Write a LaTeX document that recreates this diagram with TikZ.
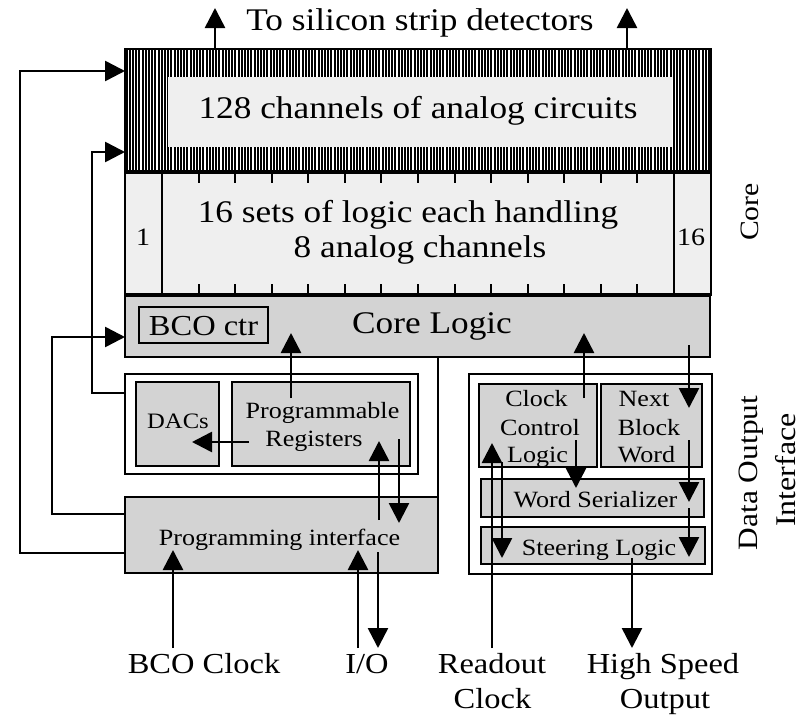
\documentclass[tikz,border=0pt]{standalone}
\usepackage{fontspec}
\setmainfont{Liberation Serif}[FakeStretch=1.12]
\usetikzlibrary{arrows.meta}
\definecolor{lg}{HTML}{EFEFEF}
\definecolor{mg}{HTML}{D3D3D3}
\newcommand\myfs[1]{\fontsize{#1}{#1}\selectfont}
\begin{document}
\begin{tikzpicture}[x=1pt,y=-1pt,
 box/.style={draw,line width=2pt,inner sep=0pt,outer sep=0pt,anchor=north west},
 lbl/.style={anchor=base,inner sep=0pt,outer sep=0pt},
 big/.style={font=\myfs{31.5}},
 bot/.style={font=\myfs{29}},
 sml/.style={font=\myfs{23.3}},
 ln/.style={line width=2.6pt},
 arr/.style={line width=2.6pt,-{Triangle[length=20pt,width=20pt]}}]
\useasboundingbox (0,0) rectangle (809,715);

% hatched analog block
\foreach \x in {126.5,129.7,...,710} \draw[line width=2pt] (\x,49) -- (\x,172);
\node[box,draw=none,fill=lg,minimum width=504pt,minimum height=70pt] (analog) at (168,77) {};
\node[box,minimum width=586pt,minimum height=123pt] (hatch) at (125,49) {};
\node[lbl,big] (tanalog) at (418,118) {128 channels of analog circuits};

% logic block
\node[box,fill=lg,minimum width=586pt,minimum height=123pt] (logic) at (125,172) {};
\draw[line width=2pt] ([xshift=37pt]logic.north west) -- ([xshift=37pt]logic.south west);
\draw[line width=2pt] ([xshift=-37pt]logic.north east) -- ([xshift=-37pt]logic.south east);
\foreach \k in {1,...,13} {
  \draw[line width=2pt] (162+\k*36.571,172) -- ++(0,11);
  \draw[line width=2pt] (162+\k*36.571,295) -- ++(0,-11);
}
\node[lbl,font=\myfs{25}] (one) at (143,245) {1};
\node[lbl,font=\myfs{25}] (sixteen) at (691,245) {16};
\node[lbl,big] (tl1) at (408,222) {16 sets of logic each handling};
\node[lbl,big] (tl2) at (420,257) {8 analog channels};

% core logic
\node[box,fill=mg,minimum width=585pt,minimum height=62pt] (cl) at (125,295) {};
\draw[line width=4pt] (hatch.south west) -- (hatch.south east);
\draw[line width=4pt] (logic.south west) -- (logic.south east);
\node[box,fill=mg,minimum width=129pt,minimum height=36pt] (bco) at (139,307) {};
\node[lbl,font=\myfs{29}] (tbco) at (203.5,335) {BCO ctr};
\node[lbl,big] (tcl) at (432,333) {Core Logic};

% programming side
\node[box,fill=white,minimum width=293pt,minimum height=100pt] (prgrp) at (125,374) {};
\node[box,fill=mg,minimum width=83pt,minimum height=84pt] (dacs) at (136,382) {};
\node[box,fill=mg,minimum width=178pt,minimum height=84pt] (preg) at (232,382) {};
\node[lbl,font=\myfs{22}] (tdacs) at (178,428) {DACs};
\node[lbl,sml] (tpr1) at (322.5,418) {Programmable};
\node[lbl,sml] (tpr2) at (314,446) {Registers};
\node[box,fill=mg,minimum width=313pt,minimum height=76pt] (pi) at (125,497) {};
\node[lbl,sml] (tpi) at (279.5,545) {Programming interface};

% data output side
\node[box,fill=white,minimum width=243pt,minimum height=200pt] (dogrp) at (469,374) {};
\node[box,fill=mg,minimum width=118pt,minimum height=83pt] (ccl) at (479,384) {};
\node[box,fill=mg,minimum width=101pt,minimum height=83pt] (nbw) at (601,384) {};
\node[box,fill=mg,minimum width=223pt,minimum height=38pt] (ws) at (481,479) {};
\node[box,fill=mg,minimum width=224pt,minimum height=37pt] (sl) at (481,527) {};
\node[lbl,sml] (tc1) at (536.5,406) {Clock};
\node[lbl,sml] (tc2) at (540,435) {Control};
\node[lbl,sml] (tc3) at (537.5,462) {Logic};
\node[lbl,sml] (tn1) at (644,406) {Next};
\node[lbl,sml] (tn2) at (649,435) {Block};
\node[lbl,sml] (tn3) at (646.5,462) {Word};
\node[lbl,sml] (tws) at (595.5,507) {Word Serializer};
\node[lbl,sml] (tsl) at (599,555) {Steering Logic};

% outer labels
\node[lbl,big] (ttop) at (420,30) {To silicon strip detectors};
\node[rotate=90,font=\myfs{26.5},inner sep=0pt] (tcore) at (750,212) {Core};
\node[rotate=90,font=\myfs{28},inner sep=0pt] (tdo1) at (751,473) {Data Output};
\node[rotate=90,font=\myfs{28.5},inner sep=0pt] (tdo2) at (786,470) {Interface};
\node[lbl,bot] (bclk) at (204,673) {BCO Clock};
\node[lbl,bot] (io) at (367,673) {I/O};
\node[lbl,bot] (ro1) at (492,673) {Readout};
\node[lbl,bot] (ro2) at (492.5,708) {Clock};
\node[lbl,bot] (hs1) at (663,673) {High Speed};
\node[lbl,bot] (hs2) at (665,708) {Output};

% connectors
\draw[arr] ([xshift=-203pt]hatch.north) -- (215,8);
\draw[arr] ([xshift=209pt]hatch.north) -- (627,8);
\draw[arr] ([yshift=-18pt]pi.west) -- (20,553) -- (20,71) -- ([yshift=-22pt]hatch.north west);
\draw[arr] ([yshift=31pt]prgrp.west) -- (92,393) -- (92,152) -- ([yshift=20pt]hatch.south west);
\draw[arr] ([yshift=21pt]pi.west) -- (52,514) -- (52,337) -- ([yshift=-11pt]cl.west);
\draw[line width=2pt] (pi.north east |- cl.south) -- (pi.north east);
\draw[arr] (291,398) -- (291,333);
\draw[arr] (249,442) -- (192,442);
\draw[arr] (379,520) -- (379,441);
\draw[arr] (399,439) -- (399,523);
\draw[arr] (173,648) -- (173,550);
\draw[arr] (358,648) -- (358,550);
\draw[arr] (378,552) -- (378,648);
\draw[arr] (584,398) -- (584,333);
\draw[arr] (689,345) -- (689,408);
\draw[arr] (576,440) -- (576,488);
\draw[arr] (689,440) -- (689,502);
\draw[arr] (689,508) -- (689,557);
\draw[arr] (492,648) -- (492,443);
\draw[arr] (502,462) -- (502,558);
\draw[arr] (632,558) -- (632,648);
\end{tikzpicture}
\end{document}
